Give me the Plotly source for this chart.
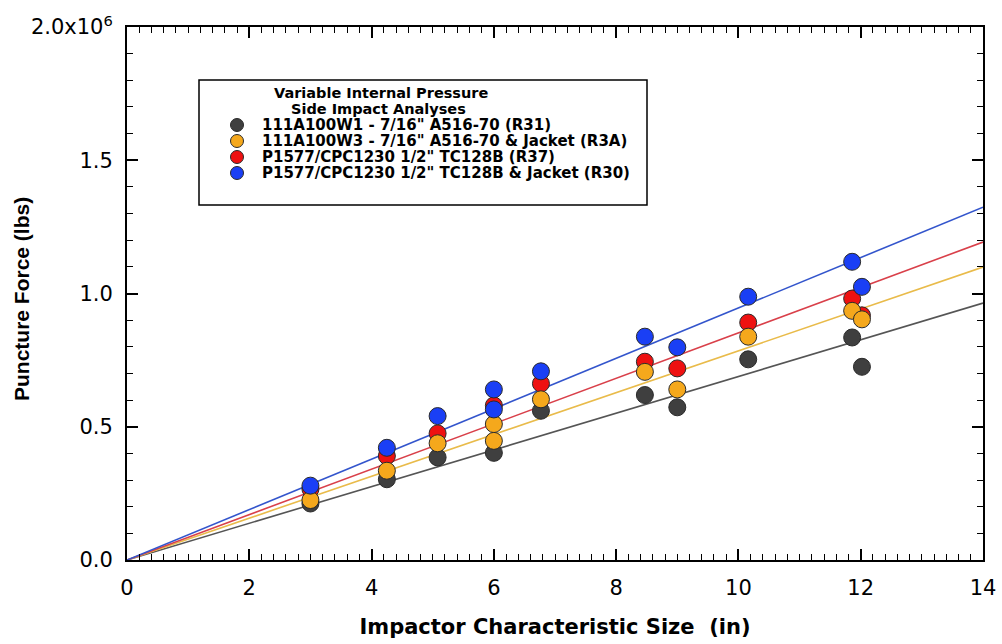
import plotly.graph_objects as go

# ---------------- data ----------------
legend_title_lines = ["Variable Internal Pressure", "Side Impact Analyses"]
series_names = [
    "111A100W1 - 7/16\" A516-70 (R31)",
    "111A100W3 - 7/16\" A516-70 & Jacket (R3A)",
    "P1577/CPC1230 1/2\" TC128B (R37)",
    "P1577/CPC1230 1/2\" TC128B & Jacket (R30)",
]

x_r31 = [3.0, 4.25, 5.08, 6.0, 6.77, 8.47, 9.0, 10.16, 11.86, 12.02]
y_r31 = [0.212e6, 0.303e6, 0.385e6, 0.402e6, 0.560e6, 0.619e6, 0.573e6, 0.753e6, 0.835e6, 0.725e6]

x_r3a = [3.0, 4.25, 5.08, 6.0, 6.0, 6.77, 8.47, 9.0, 10.16, 11.86, 12.02]
y_r3a = [0.225e6, 0.335e6, 0.438e6, 0.510e6, 0.447e6, 0.603e6, 0.706e6, 0.640e6, 0.838e6, 0.935e6, 0.903e6]

x_r37 = [3.0, 4.25, 5.08, 6.0, 6.77, 8.47, 9.0, 10.16, 11.86, 12.02]
y_r37 = [0.266e6, 0.390e6, 0.475e6, 0.580e6, 0.662e6, 0.744e6, 0.719e6, 0.891e6, 0.981e6, 0.918e6]

x_r30 = [3.0, 4.25, 5.08, 6.0, 6.0, 6.77, 8.47, 9.0, 10.16, 11.86, 12.02]
y_r30 = [0.279e6, 0.421e6, 0.540e6, 0.640e6, 0.565e6, 0.708e6, 0.838e6, 0.798e6, 0.988e6, 1.119e6, 1.025e6]

# linear fits through the origin (value at each end of the x range)
fit_x = [0.0, 14.0]
fit_r31 = [0.0, 0.964e6]
fit_r3a = [0.0, 1.099e6]
fit_r37 = [0.0, 1.193e6]
fit_r30 = [0.0, 1.324e6]

y_tickvals = [0, 0.5e6, 1.0e6, 1.5e6, 2.0e6]
y_ticktext = ["0.0", "0.5", "1.0", "1.5", "2.0x10<sup>6</sup>"]
x_tickvals = [0, 2, 4, 6, 8, 10, 12, 14]
x_title = "Impactor Characteristic Size  (in)"
y_title = "Puncture Force (lbs)"

# ---------------- styling ----------------
marker_colors = ["#3f3f3f", "#f5a81c", "#ee1111", "#1a3ff5"]
line_colors = ["#555555", "#e9bb4a", "#d9404a", "#3355cc"]
FONT = "Liberation Sans, Arial, sans-serif"
WIDE = "DejaVu Sans, Verdana, sans-serif"

# plot-area geometry in pixels (used only to place the legend box / y title)
L, R, T, B = 127, 983, 27, 560
def px(xp):
    return (xp - L) / (R - L)
def py(yp):
    return (B - yp) / (B - T)

fig = go.Figure()

fits = [fit_r31, fit_r3a, fit_r37, fit_r30]
for fy, lc in zip(fits, line_colors):
    fig.add_trace(go.Scatter(x=fit_x, y=fy, mode="lines",
                             line=dict(color=lc, width=1.6),
                             showlegend=False, hoverinfo="skip"))

pts = [(x_r31, y_r31), (x_r3a, y_r3a), (x_r37, y_r37), (x_r30, y_r30)]
order = [0, 2, 1, 3]  # drawing order: black, red, orange, blue
for i in order:
    xs, ys = pts[i]
    fig.add_trace(go.Scatter(
        x=xs, y=ys, mode="markers", name=series_names[i], showlegend=False,
        marker=dict(color=marker_colors[i], size=17,
                    line=dict(color="#2a2a2a", width=1)),
    ))

# ---------- hand-built legend box (matches reference layout) ----------
box = dict(x0=px(199), x1=px(647), y0=py(205), y1=py(80))
fig.add_shape(type="rect", xref="paper", yref="paper", layer="below",
              line=dict(color="black", width=1.5), fillcolor="white", **box)

title_pos = [(381, 93), (378, 109)]
for txt, (tx, ty) in zip(legend_title_lines, title_pos):
    fig.add_annotation(xref="paper", yref="paper", x=px(tx), y=py(ty),
                       text="<b>" + txt + "</b>", showarrow=False,
                       xanchor="center", yanchor="middle",
                       font=dict(family=WIDE, size=14.5, color="black"))

row_y = [125, 141, 157, 173]
fig.add_trace(go.Scatter(
    x=[px(237)] * 4, y=[py(v) for v in row_y], mode="markers",
    xaxis="x2", yaxis="y2", showlegend=False, hoverinfo="skip",
    marker=dict(color=marker_colors, size=13, line=dict(color="#2a2a2a", width=1)),
))
for name, ry in zip(series_names, row_y):
    fig.add_annotation(xref="paper", yref="paper", x=px(260), y=py(ry),
                       text="<b>" + name + "</b>", showarrow=False,
                       xanchor="left", yanchor="middle",
                       font=dict(family=WIDE, size=15, color="black"))

# y-axis title placed as rotated text
fig.add_annotation(xref="paper", yref="paper", x=px(21), y=py(299),
                   text="<b>" + y_title + "</b>", showarrow=False, textangle=-90,
                   xanchor="center", yanchor="middle",
                   font=dict(family=FONT, size=21, color="black"))

fig.update_layout(
    width=1002, height=644,
    margin=dict(l=127, r=19, t=27, b=84),
    plot_bgcolor="white", paper_bgcolor="white",
    font=dict(family=FONT, color="black"),
    showlegend=False,
    xaxis=dict(
        range=[0, 14], tickvals=x_tickvals, automargin=False,
        ticks="inside", ticklen=11, tickwidth=1.5, tickcolor="black",
        minor=dict(dtick=0.2, ticks="inside", ticklen=6, tickwidth=1.2, tickcolor="black"),
        showline=True, linecolor="black", linewidth=2, mirror="allticks",
        showgrid=False, zeroline=False,
        tickfont=dict(family=WIDE, size=21, color="black"),
        ticklabelstandoff=8,
        title=dict(text="<b>" + x_title + "</b>",
                   font=dict(family=WIDE, size=21, color="black"), standoff=20),
    ),
    yaxis=dict(
        range=[0, 2.0e6], tickvals=y_tickvals, ticktext=y_ticktext, automargin=False,
        ticks="inside", ticklen=11, tickwidth=1.5, tickcolor="black",
        minor=dict(dtick=0.1e6, ticks="inside", ticklen=6, tickwidth=1.2, tickcolor="black"),
        showline=True, linecolor="black", linewidth=2, mirror="allticks",
        showgrid=False, zeroline=False,
        tickfont=dict(family=WIDE, size=21, color="black"),
        ticklabelstandoff=8,
    ),
    xaxis2=dict(overlaying="x", range=[0, 1], visible=False, fixedrange=True),
    yaxis2=dict(overlaying="y", range=[0, 1], visible=False, fixedrange=True),
)

fig.write_html("out.html", config={"displayModeBar": False},
               post_script="document.body.style.margin='0px';")
